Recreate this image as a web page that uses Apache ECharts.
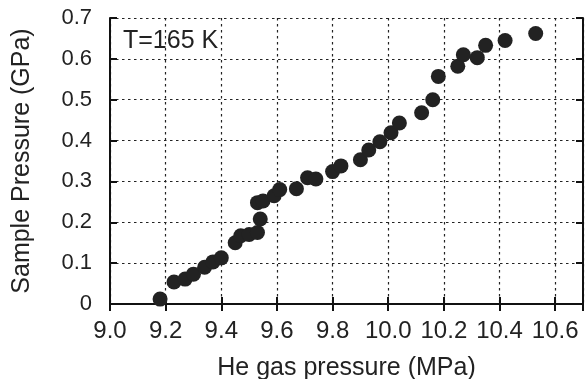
<!DOCTYPE html>
<html><head><meta charset="utf-8">
<script src="https://cdn.jsdelivr.net/npm/echarts@6/dist/echarts.min.js"></script>
<style>html,body{margin:0;padding:0;background:#fff}#c{width:587px;height:379px}</style>
</head><body><div id="c"></div>
<script>
var heGasPressure = [9.18,9.23,9.27,9.30,9.34,9.37,9.40,9.45,9.47,9.50,9.53,9.54,9.53,9.55,9.59,9.61,9.67,9.71,9.74,9.80,9.83,9.90,9.93,9.97,10.01,10.04,10.12,10.16,10.18,10.25,10.27,10.32,10.35,10.42,10.53];
var samplePressure = [0.012,0.054,0.061,0.073,0.090,0.103,0.113,0.150,0.167,0.170,0.175,0.208,0.248,0.252,0.265,0.280,0.282,0.309,0.306,0.324,0.338,0.353,0.377,0.397,0.419,0.443,0.468,0.500,0.557,0.582,0.610,0.603,0.633,0.645,0.662];
var xTicks = [9.0,9.2,9.4,9.6,9.8,10.0,10.2,10.4,10.6];
var yTicks = [0,0.1,0.2,0.3,0.4,0.5,0.6,0.7];
var annotation = "T=165 K";

var pts = heGasPressure.map(function(x,i){return [x, samplePressure[i]];});
var font = 'Liberation Sans, Arial, sans-serif';
var chart = echarts.init(document.getElementById('c'), null, {renderer:'canvas'});
var axLine = {show:true, lineStyle:{color:'#111', width:2}};
var tick = {show:true, inside:true, length:7, lineStyle:{color:'#111', width:2}};
var grid = {show:true, lineStyle:{color:'#222', width:1.2, type:[2.5,3.5]}};
chart.setOption({
  animation:false,
  grid:{left:110, right:4, top:18, bottom:75, containLabel:false, outerBoundsMode:'none'},
  xAxis:[{
    type:'value', min:9.0, max:10.7, interval:0.2, position:'bottom',
    axisLine:axLine, axisTick:tick, splitLine:grid,
    axisLabel:{fontFamily:font, fontSize:24, color:'#222', margin:15,
      formatter:function(v){ return xTicks.some(function(t){return Math.abs(t-v)<1e-6;}) ? v.toFixed(1) : ''; }},
    name:'He gas pressure (MPa)', nameLocation:'middle', nameGap:52,
    nameTextStyle:{fontFamily:font, fontSize:25, color:'#222'}
  },{
    type:'value', min:9.0, max:10.7, interval:0.2, position:'top',
    axisLine:axLine, axisTick:tick, splitLine:{show:false}, axisLabel:{show:false}
  }],
  yAxis:[{
    type:'value', min:0, max:0.7, interval:0.1, position:'left',
    axisLine:axLine, axisTick:tick, splitLine:grid,
    axisLabel:{fontFamily:font, fontSize:22, color:'#222', margin:18,
      formatter:function(v){ return yTicks.some(function(t){return Math.abs(t-v)<1e-6;}) ? (v===0?'0':v.toFixed(1)) : ''; }},
    name:'Sample Pressure (GPa)', nameLocation:'middle', nameGap:75,
    nameTextStyle:{fontFamily:font, fontSize:25, color:'#222'}
  },{
    type:'value', min:0, max:0.7, interval:0.1, position:'right',
    axisLine:axLine, axisTick:tick, splitLine:{show:false}, axisLabel:{show:false}
  }],
  graphic:[{type:'text', left:123, top:29, style:{text:annotation, font:'25px '+font, fill:'#222'}}],
  series:[{type:'scatter', data:pts, symbol:'circle', symbolSize:15, itemStyle:{color:'#222', opacity:1}}]
});
</script></body></html>
